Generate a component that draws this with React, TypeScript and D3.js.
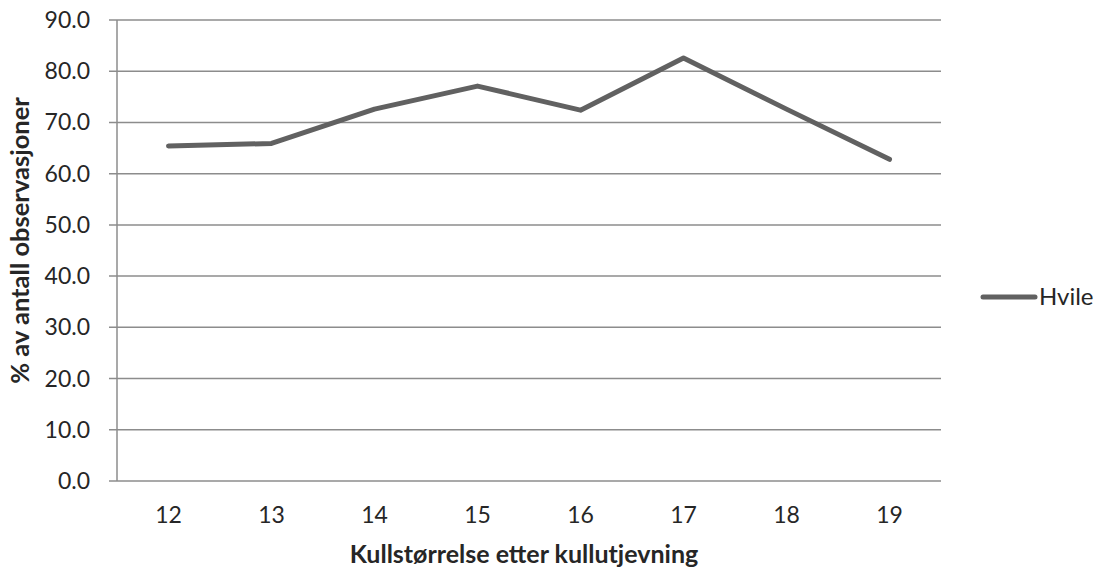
import React from 'react'
import * as d3 from 'd3'

// Kullstørrelse vs. % hvile
const categories = ['12', '13', '14', '15', '16', '17', '18', '19']
const hvile = [65.4, 65.9, 72.6, 77.1, 72.4, 82.6, 72.6, 62.8]
const yTicks = [0, 10, 20, 30, 40, 50, 60, 70, 80, 90]

const W = 1096, H = 570
const margin = { top: 20, right: 155, bottom: 89, left: 117 }
const FONT = 'Lato, "Open Sans", sans-serif'

export default function App() {
  const width = W - margin.left - margin.right
  const height = H - margin.top - margin.bottom

  const x = d3.scaleBand().domain(categories).range([0, width])
  const y = d3.scaleLinear().domain([0, 90]).range([height, 0])

  const line = d3.line<number>()
    .x((d, i) => x(categories[i])! + x.bandwidth() / 2)
    .y(d => y(d))

  return (
    <svg width={W} height={H} style={{ position: 'absolute', left: 0, top: 0, background: '#fff' }}>
      <g transform={`translate(${margin.left},${margin.top})`}>
        {yTicks.map(t => (
          <g key={t}>
            <line x1={-8} x2={width} y1={y(t)} y2={y(t)} stroke="#8c8c8c" strokeWidth={1.5} />
            <text x={-27} y={y(t)} dy="0.35em" textAnchor="end" fontFamily={FONT} fontSize={23} fill="#262626">
              {t.toFixed(1)}
            </text>
          </g>
        ))}
        <line x1={0} x2={0} y1={0} y2={height} stroke="#8c8c8c" strokeWidth={1.5} />

        {categories.map(c => (
          <text key={c} x={x(c)! + x.bandwidth() / 2} y={height + 42} textAnchor="middle"
            fontFamily={FONT} fontSize={23} fill="#262626">{c}</text>
        ))}

        <path d={line(hvile)!} fill="none" stroke="#616161" strokeWidth={5}
          strokeLinejoin="round" strokeLinecap="round" />

        <text x={width / 2 - 5} y={height + 82} textAnchor="middle" fontFamily={FONT}
          fontWeight="bold" fontSize={25} fill="#262626">Kullstørrelse etter kullutjevning</text>

        <text transform={`translate(${-88},${height / 2 - 10}) rotate(-90)`} textAnchor="middle"
          fontFamily={FONT} fontWeight="bold" fontSize={25.5} fill="#262626">% av antall observasjoner</text>
      </g>

      {/* legend */}
      <line x1={983} x2={1035} y1={297} y2={297} stroke="#616161" strokeWidth={5} strokeLinecap="round" />
      <text x={1039} y={297} dy="0.35em" fontFamily={FONT} fontSize={24} fill="#262626">Hvile</text>
    </svg>
  )
}
